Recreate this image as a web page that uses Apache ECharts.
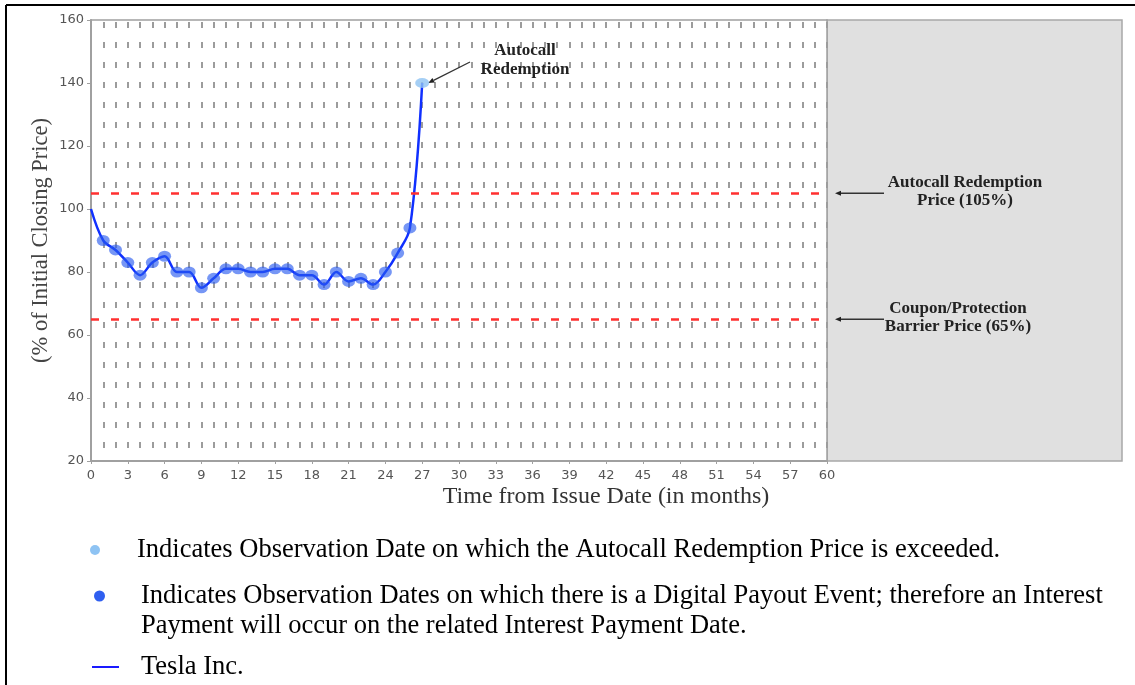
<!DOCTYPE html>
<html><head><meta charset="utf-8">
<script src="https://cdn.jsdelivr.net/npm/echarts@6/dist/echarts.min.js"></script>
<style>html,body{margin:0;padding:0;background:#fff}#c{width:1135px;height:685px}</style>
</head><body><div id="c"></div>
<script>
// ---- data ----
var months = [0,1,2,3,4,5,6,7,8,9,10,11,12,13,14,15,16,17,18,19,20,21,22,23,24,25,26,27];
var levels = [100,90,87,83,79,83,85,80,80,75,78,81,81,80,80,81,81,79,79,76,80,77,78,76,80,86,94,140];
var payoutMonths = [1,2,3,4,5,6,7,8,9,10,11,12,13,14,15,16,17,18,19,20,21,22,23,24,25,26];
var autocallMonths = [27];
var autocallLevel = 105;
var barrierLevel = 65;
var xTicks = {min:0, max:60, step:3};
var yTicks = {min:20, max:160, step:20};

function lvl(m){ return levels[months.indexOf(m)]; }
var lineData = months.map(function(m,i){ return [m, levels[i]]; });
var payoutData = payoutMonths.map(function(m){ return [m, lvl(m)]; });
var autocallData = autocallMonths.map(function(m){ return [m, lvl(m)]; });

var chart = echarts.init(document.getElementById('c'));
var serif = '"Liberation Serif","DejaVu Serif",serif';
var sans = '"DejaVu Sans",sans-serif';
var dashStyle = {color:'#9c9c9c', width:2, type:[6,14], dashOffset:18};

chart.setOption({
  animation:false,
  grid:{left:91, top:20, right:308, bottom:224, show:true, borderColor:'#a0a0a0', borderWidth:1.5, backgroundColor:'#fff'},
  xAxis:{type:'value', min:xTicks.min, max:xTicks.max, interval:xTicks.step,
    axisLine:{show:true, onZero:false, lineStyle:{color:'#a0a0a0', width:2}},
    axisTick:{show:true, length:3, lineStyle:{color:'#a0a0a0'}},
    axisLabel:{color:'#555', fontFamily:sans, fontSize:13, margin:8},
    splitLine:{show:true, lineStyle:dashStyle},
    minorTick:{show:false, splitNumber:3},
    minorSplitLine:{show:true, lineStyle:dashStyle}
  },
  yAxis:{type:'value', min:yTicks.min, max:yTicks.max, interval:yTicks.step,
    name:'(% of Initial Closing Price)', nameLocation:'middle', nameGap:38, nameMoveOverlap:false,
    nameTextStyle:{fontFamily:serif, fontSize:22.5, color:'#444'},
    axisLine:{show:true, lineStyle:{color:'#a0a0a0', width:2}},
    axisTick:{show:true, length:4, lineStyle:{color:'#a0a0a0'}},
    axisLabel:{color:'#555', fontFamily:sans, fontSize:13, margin:7},
    splitLine:{show:false}
  },
  series:[
    {type:'line', data:lineData, smooth:0.35, symbol:'none', z:3,
      lineStyle:{color:'#1030ff', width:2.5},
      markLine:{silent:true, symbol:'none', label:{show:false},
        lineStyle:{color:'#ff3030', width:2.5, type:[8,12]},
        data:[{yAxis:autocallLevel},{yAxis:barrierLevel}]}
    },
    {type:'scatter', data:payoutData, symbol:'circle', symbolSize:[13,11], z:4,
      itemStyle:{color:'rgba(40,90,240,0.8)'}},
    {type:'scatter', data:autocallData, symbol:'circle', symbolSize:[14,10], z:4,
      itemStyle:{color:'#8ec3f3'}}
  ]
});

function arrow(x1,y1,x2,y2){
  var a = Math.atan2(y2-y1, x2-x1), L=6, W=2.5;
  var bx = x2 - L*Math.cos(a), by = y2 - L*Math.sin(a);
  var px = -Math.sin(a)*W, py = Math.cos(a)*W;
  return [
    {type:'line', shape:{x1:x1,y1:y1,x2:bx,y2:by}, style:{stroke:'#333', lineWidth:1.3}},
    {type:'polygon', shape:{points:[[x2,y2],[bx+px,by+py],[bx-px,by-py]]}, style:{fill:'#222'}}
  ];
}

var acPt = chart.convertToPixel({gridIndex:0}, autocallData[0]);
var yAC = chart.convertToPixel({yAxisIndex:0}, autocallLevel);
var yBar = chart.convertToPixel({yAxisIndex:0}, barrierLevel);
var rightX = chart.convertToPixel({xAxisIndex:0}, xTicks.max);
var bottomY = chart.convertToPixel({yAxisIndex:0}, yTicks.min);
var topY = chart.convertToPixel({yAxisIndex:0}, yTicks.max);

var boldTxt = function(x,y,t){ return {type:'text', x:x, y:y, z:10, style:{text:t, fontFamily:serif, fontWeight:'bold', fontSize:17, fill:'#222', align:'center', verticalAlign:'middle'}}; };
var legTxt = function(x,y,t){ return {type:'text', x:x, y:y, style:{text:t, fontFamily:serif, fontSize:26.5, fill:'#000', align:'left', verticalAlign:'middle'}}; };

var g = [
  // outer frame
  {type:'line', shape:{x1:6,y1:5,x2:1135,y2:5}, style:{stroke:'#000', lineWidth:2}},
  {type:'line', shape:{x1:6,y1:5,x2:6,y2:685}, style:{stroke:'#000', lineWidth:2}},
  // gray panel
  {type:'rect', shape:{x:rightX, y:topY, width:1122-rightX, height:bottomY-topY}, style:{fill:'#e0e0e0', stroke:'#a8a8a8', lineWidth:1.5}, z:-1},
  boldTxt(525, 51, 'Autocall'),
  boldTxt(525, 70, 'Redemption'),
  boldTxt(965, 183, 'Autocall Redemption'),
  boldTxt(965, 201, 'Price (105%)'),
  boldTxt(958, 309, 'Coupon/Protection'),
  boldTxt(958, 327, 'Barrier Price (65%)'),
  {type:'text', x:606, y:497, style:{text:'Time from Issue Date (in months)', fontFamily:serif, fontSize:24, fill:'#333', align:'center', verticalAlign:'middle'}},
  // legend
  {type:'circle', shape:{cx:95, cy:550, r:5}, style:{fill:'#8ec3f3'}},
  legTxt(137, 550, 'Indicates Observation Date on which the Autocall Redemption Price is exceeded.'),
  {type:'circle', shape:{cx:99.5, cy:596, r:5.5}, style:{fill:'#2f5ff0'}},
  legTxt(141, 596, 'Indicates Observation Dates on which there is a Digital Payout Event; therefore an Interest'),
  legTxt(141, 626, 'Payment will occur on the related Interest Payment Date.'),
  {type:'line', shape:{x1:92,y1:667,x2:119,y2:667}, style:{stroke:'#1a1aff', lineWidth:2}},
  legTxt(141, 667, 'Tesla Inc.')
];
g = g.concat(arrow(470, 62, acPt[0]+6, acPt[1]));
g = g.concat(arrow(884, yAC, 835, yAC));
g = g.concat(arrow(884, yBar, 835, yBar));
chart.setOption({graphic:g});
</script></body></html>
